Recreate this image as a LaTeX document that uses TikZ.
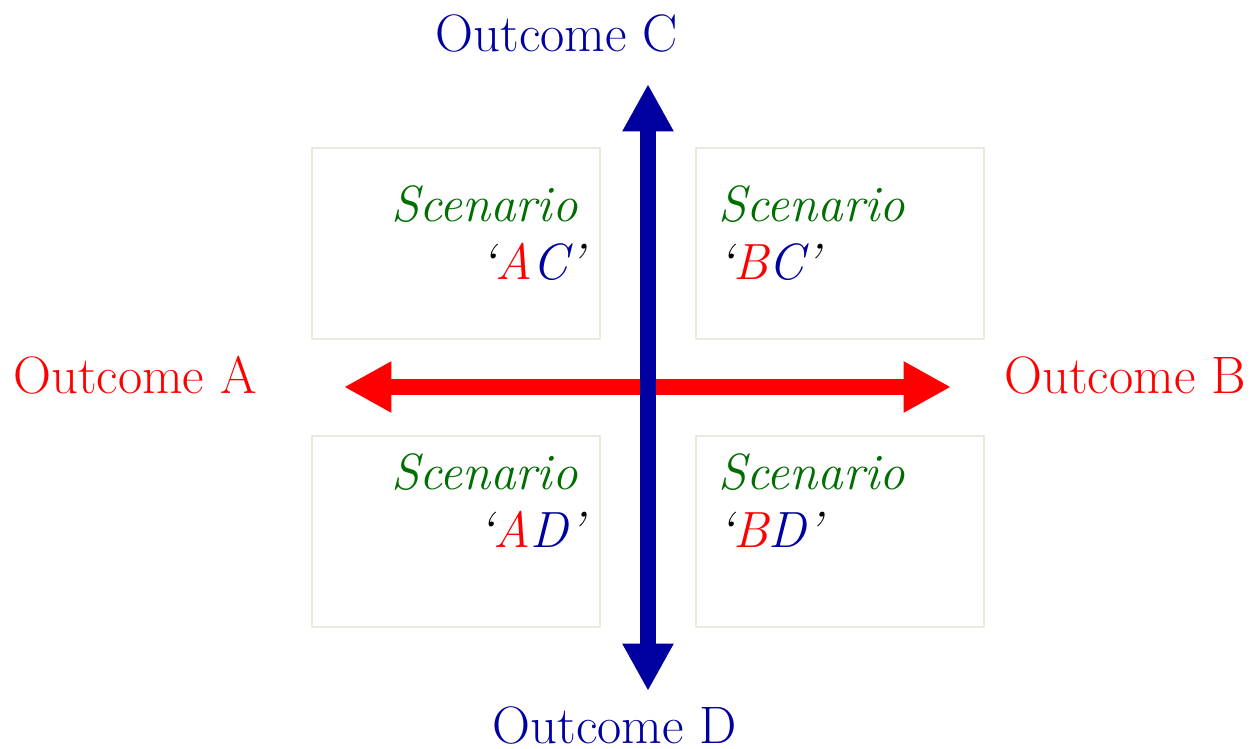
\documentclass[tikz,border=0pt]{standalone}
\usetikzlibrary{arrows.meta}
\definecolor{navy}{RGB}{0,0,160}
\definecolor{dkgreen}{RGB}{0,110,0}
\definecolor{boxc}{RGB}{236,234,222}
\tikzset{
  scen/.style={draw=boxc, line width=1.4pt, minimum width=5.76cm, minimum height=3.82cm, inner sep=0pt},
  outc/.style={font=\fontsize{30}{36}\selectfont, inner sep=0pt, anchor=base},
  stxt/.style={font=\fontsize{29}{35}\selectfont\itshape, inner sep=0pt, text=dkgreen},
  bigarrow/.style={line width=0.32cm, {Triangle[width=0.96cm,length=0.95cm]}-{Triangle[width=0.96cm,length=0.95cm]}}
}
\newcommand{\q}[2]{{\color{black}`}{\color{red}#1}{\color{navy}#2}{\color{black}'}}
\begin{document}
\begin{tikzpicture}[x=0.02cm,y=-0.02cm]
\useasboundingbox (0,0) rectangle (1251,749);
% boxes
\node[scen] (bAC) at (456,243.5) {};
\node[scen] (bBC) at (840,243.5) {};
\node[scen] (bAD) at (456,531.5) {};
\node[scen] (bBD) at (840,531.5) {};
% arrows
\coordinate (tA) at (344,387);
\coordinate (tB) at (951,387);
\coordinate (tC) at (648,84);
\coordinate (tD) at (648,691);
\draw[bigarrow, red] (tA) -- (tB);
\draw[bigarrow, navy] (tC) -- (tD);
% outcome labels
\node[outc, text=navy] (oC) at (557,52) {Outcome C};
\node[outc, text=navy] (oD) at (615,743) {Outcome D};
\node[outc, text=red] (oA) at (135,394) {Outcome A};
\node[outc, text=red] (oB) at (1125,394) {Outcome B};
% scenario texts
\node[stxt, anchor=base east] (sAC1) at (578,222) {Scenario};
\node[stxt, anchor=base east] (sAC2) at (584,280) {\q{A}{C}};
\node[stxt, anchor=base west] (sBC1) at (718,222) {Scenario};
\node[stxt, anchor=base west] (sBC2) at (718,280) {\q{B}{C}};
\node[stxt, anchor=base east] (sAD1) at (578,490) {Scenario};
\node[stxt, anchor=base east] (sAD2) at (584,548) {\q{A}{D}};
\node[stxt, anchor=base west] (sBD1) at (718,490) {Scenario};
\node[stxt, anchor=base west] (sBD2) at (718,548) {\q{B}{D}};
\end{tikzpicture}
\end{document}
